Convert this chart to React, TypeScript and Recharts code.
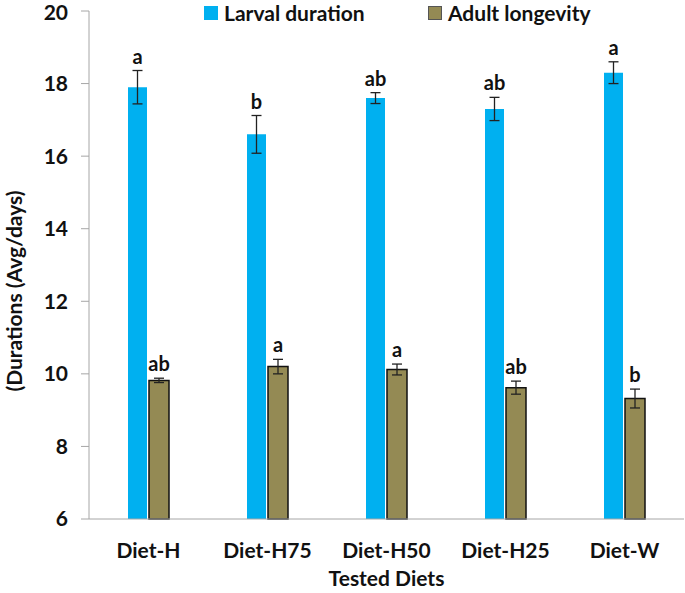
import { BarChart, Bar, XAxis, YAxis, ErrorBar, LabelList } from 'recharts';

const diets = ['Diet-H', 'Diet-H75', 'Diet-H50', 'Diet-H25', 'Diet-W'];
const larval = [17.9, 16.6, 17.6, 17.3, 18.3];
const larvalErr = [0.46, 0.52, 0.15, 0.32, 0.3];
const larvalLetters = ['a', 'b', 'ab', 'ab', 'a'];
const adult = [9.82, 10.2, 10.12, 9.62, 9.32];
const adultErr = [0.06, 0.2, 0.15, 0.18, 0.26];
const adultLetters = ['ab', 'a', 'a', 'ab', 'b'];
const yTicks = [6, 8, 10, 12, 14, 16, 18, 20];

const BLUE = '#00B0F0';
const OLIVE = '#948A54';
const FONT = 'Lato, "Noto Sans", sans-serif';

const data = diets.map((d, i) => ({
  name: d,
  larval: larval[i],
  larvalErr: larvalErr[i],
  adult: adult[i],
  adultErr: adultErr[i],
}));

// letter sits above the error bar; scale taken from the bar itself
const letterLabel = (letters: string[], values: number[], errs: number[]) => (props: any) => {
  const { x, y, width, height, index } = props;
  const pxPerUnit = height / (values[index] - 6);
  const top = y - errs[index] * pxPerUnit;
  return (
    <text
      x={x + width / 2}
      y={top - 7}
      textAnchor="middle"
      fontFamily={FONT}
      fontWeight={700}
      fontSize={20}
      fill="#111"
    >
      {letters[index]}
    </text>
  );
};

const yTitle = (props: any) => {
  const vb = props.viewBox;
  const cx = vb.x + 22;
  const cy = vb.y + vb.height / 2 + 26;
  return (
    <text
      transform={`translate(${cx},${cy}) rotate(-90)`}
      textAnchor="middle"
      fontFamily={FONT}
      fontWeight={700}
      fontSize={21}
      fill="#111"
    >
      (Durations (Avg/days)
    </text>
  );
};

const legendItems = [
  { label: 'Larval duration', color: BLUE, stroke: BLUE, left: 204 },
  { label: 'Adult longevity', color: OLIVE, stroke: '#555', left: 428 },
];

export default function App() {
  return (
    <div style={{ position: 'absolute', left: 0, top: 0, width: 685, height: 593, background: '#fff' }}>
      <BarChart
        width={685}
        height={593}
        data={data}
        margin={{ top: 11, right: 1, bottom: 0, left: 0 }}
        barCategoryGap="32%"
        barGap={2}
      >
        <XAxis
          dataKey="name"
          height={74}
          tickLine={false}
          axisLine={{ stroke: '#A6A6A6' }}
          tick={{ fontFamily: FONT, fontWeight: 700, fontSize: 21, fill: '#111' }}
          tickMargin={18}
          label={{ value: 'Tested Diets', position: 'insideBottom', offset: 7, fontFamily: FONT, fontWeight: 700, fontSize: 21, fill: '#111' }}
        />
        <YAxis
          domain={[6, 20]}
          ticks={yTicks}
          width={89}
          tickSize={8}
          tickLine={{ stroke: '#A6A6A6' }}
          axisLine={{ stroke: '#A6A6A6' }}
          tick={{ fontFamily: FONT, fontWeight: 700, fontSize: 21, fill: '#111' }}
          tickMargin={13}
          label={{ content: yTitle }}
        />
        <Bar dataKey="larval" fill={BLUE} barSize={19} isAnimationActive={false}>
          <ErrorBar dataKey="larvalErr" width={5} stroke="#222" strokeWidth={1.3} />
          <LabelList dataKey="larval" content={letterLabel(larvalLetters, larval, larvalErr)} />
        </Bar>
        <Bar dataKey="adult" fill={OLIVE} stroke="#111" strokeWidth={1.5} barSize={20} isAnimationActive={false}>
          <ErrorBar dataKey="adultErr" width={5} stroke="#222" strokeWidth={1.3} />
          <LabelList dataKey="adult" content={letterLabel(adultLetters, adult, adultErr)} />
        </Bar>
      </BarChart>
      {legendItems.map((it) => (
        <div
          key={it.label}
          style={{ position: 'absolute', top: 0, left: it.left, display: 'flex', alignItems: 'center', fontFamily: FONT, fontWeight: 700, fontSize: 21, lineHeight: '26px', color: '#111' }}
        >
          <span style={{ display: 'inline-block', width: 12, height: 12, background: it.color, border: `1px solid ${it.stroke}`, marginRight: 6 }} />
          {it.label}
        </div>
      ))}
    </div>
  );
}
